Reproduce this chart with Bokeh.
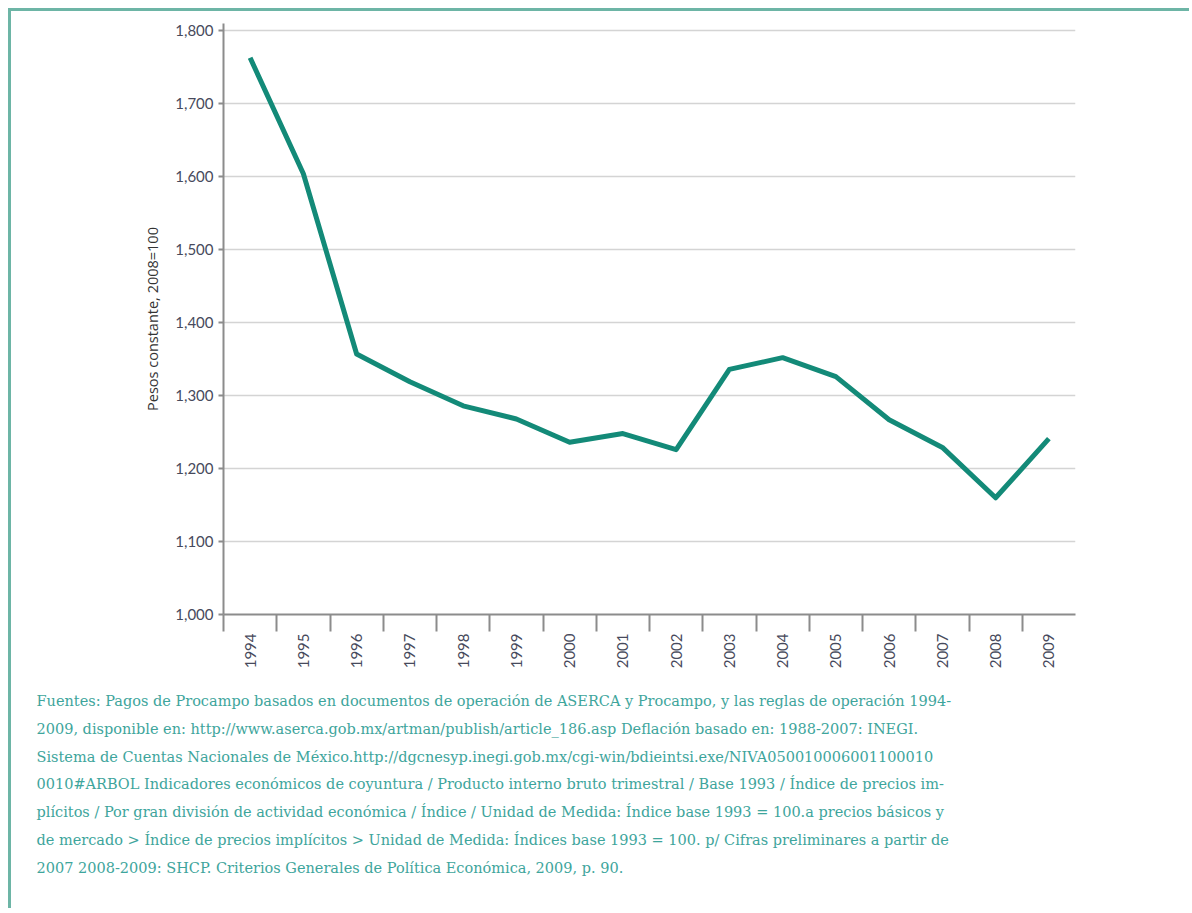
import math
from bokeh.plotting import figure
from bokeh.models import Range1d, FixedTicker, NumeralTickFormatter, Title
from bokeh.embed import file_html
from bokeh.resources import INLINE

years = list(range(1994, 2010))
values = [1763, 1604, 1357, 1319, 1286, 1268, 1236, 1248, 1226, 1336, 1352, 1326, 1267, 1229, 1160, 1241]
y_ticks = [1000, 1100, 1200, 1300, 1400, 1500, 1600, 1700, 1800]
y_label = "Pesos constante, 2008=100"
source_lines = [
    "Fuentes: Pagos de Procampo basados en documentos de operación de ASERCA y Procampo, y las reglas de operación 1994-",
    "2009, disponible en: http://www.aserca.gob.mx/artman/publish/article_186.asp  Deflación basado en: 1988-2007: INEGI.",
    "Sistema de Cuentas Nacionales de México.http://dgcnesyp.inegi.gob.mx/cgi-win/bdieintsi.exe/NIVA050010006001100010",
    "0010#ARBOL Indicadores económicos de coyuntura / Producto interno bruto trimestral / Base 1993 / Índice de precios im-",
    "plícitos / Por gran división de actividad económica / Índice / Unidad de Medida: Índice base 1993 = 100.a precios básicos y",
    "de mercado > Índice de precios implícitos  > Unidad de Medida: Índices base 1993 = 100. p/ Cifras preliminares a partir de",
    "2007 2008-2009: SHCP. Criterios Generales de Política Económica, 2009, p. 90.",
]

W, H = 1181, 900
p = figure(width=W, height=H, output_backend="svg", toolbar_location=None,
           x_range=Range1d(years[0] - 0.5, years[-1] + 0.5),
           y_range=Range1d(1000, 1810),
           min_border_left=212, min_border_top=12, min_border_right=117, min_border_bottom=297)
p.styles = {"margin-left": "8px", "margin-top": "8px",
            "border-top": "3px solid #6db5a6", "border-left": "3px solid #6db5a6"}
p.outline_line_color = None
p.background_fill_color = "white"
p.border_fill_color = "white"

p.line(years, values, line_color="#138a78", line_width=5, line_join="round")

axis_color = "#8c8c8c"
lab_color = "#474a5c"

# x axis
p.xaxis.ticker = FixedTicker(ticks=years, minor_ticks=[y - 0.5 for y in years])
p.xaxis.major_tick_out = 0
p.xaxis.major_tick_in = 0
p.xaxis.minor_tick_out = 17
p.xaxis.minor_tick_in = 0
p.xaxis.minor_tick_line_color = axis_color
p.xaxis.minor_tick_line_width = 2
p.xaxis.axis_line_color = axis_color
p.xaxis.axis_line_width = 2
p.xaxis.major_label_orientation = math.pi / 2
p.xaxis.major_label_standoff = 2
p.xaxis.major_label_text_font = "Lato"
p.xaxis.major_label_text_font_size = "15px"
p.xaxis.major_label_text_color = lab_color

# y axis
p.yaxis.ticker = FixedTicker(ticks=y_ticks)
p.yaxis.formatter = NumeralTickFormatter(format="0,0")
p.yaxis.major_tick_out = 5
p.yaxis.major_tick_in = 0
p.yaxis.minor_tick_out = 0
p.yaxis.minor_tick_in = 0
p.yaxis.major_tick_line_color = axis_color
p.yaxis.major_tick_line_width = 2
p.yaxis.axis_line_color = axis_color
p.yaxis.axis_line_width = 2
p.yaxis.major_label_standoff = 5
p.yaxis.major_label_text_font = "Lato"
p.yaxis.major_label_text_font_size = "15px"
p.yaxis.major_label_text_color = lab_color
p.yaxis.axis_label = y_label
p.yaxis.axis_label_text_font = "Open Sans"
p.yaxis.axis_label_text_font_style = "normal"
p.yaxis.axis_label_text_font_size = "14.5px"
p.yaxis.axis_label_text_color = "#333333"
p.yaxis.axis_label_standoff = 10

p.xgrid.grid_line_color = None
p.ygrid.ticker = FixedTicker(ticks=y_ticks[1:])
p.ygrid.grid_line_color = "#d4d4d4"
p.ygrid.grid_line_width = 1.5

p.add_layout(Title(text="\n".join(source_lines), align="left", offset=-187,
                   text_font="DejaVu Serif", text_font_size="14.5px",
                   text_font_style="normal", text_color="#3ea59c",
                   text_line_height=1.74, standoff=39), "below")

open("out.html", "w").write(file_html(p, INLINE))
